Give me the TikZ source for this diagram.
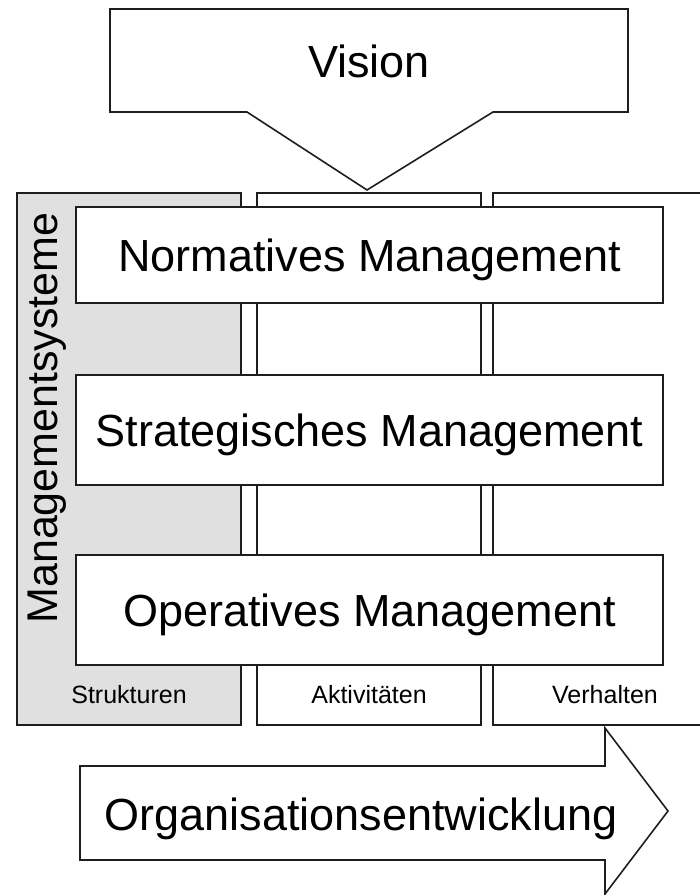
\documentclass[tikz,border=0pt]{standalone}
\usepackage{fontspec}
\setmainfont{Liberation Sans}
\definecolor{structgray}{RGB}{224,224,224}
\definecolor{linegray}{RGB}{30,30,30}
\tikzset{
  bigtext/.style={font=\fontsize{45}{54}\selectfont},
  smalltext/.style={font=\fontsize{25}{30}\selectfont},
  colbox/.style={draw=linegray, line width=1.6pt},
  mgmtbox/.style={draw=linegray, fill=white, line width=1.6pt, inner sep=0pt,
    minimum width=587pt, text height=32pt, text depth=0pt, bigtext}
}
\begin{document}
\begin{tikzpicture}[x=1pt, y=-1pt]
    % Rahmen 700 x 895
    \useasboundingbox (0,0) rectangle (700,895);

    % ===== Spalten: Strukturen / Aktivitaeten / Verhalten =====
    \fill[structgray] (17,193) rectangle (241,725);
    \foreach \lx/\rx in {17/241, 257/481, 493/717} {
      \draw[colbox] (\lx,193) rectangle (\rx,725);
    }
    \node[smalltext] (strukt) at (129,695) {Strukturen};
    \node[smalltext] (aktiv)  at (369,695) {Aktivitäten};
    \node[smalltext] (verh)   at (605,695) {Verhalten};

    % vertikale Beschriftung in der grauen Spalte
    \node[font=\fontsize{43}{50}\selectfont, rotate=90] (msys) at (47,418) {Managementsysteme};

    % ===== Management-Ebenen =====
    \node[mgmtbox, minimum height=96pt]  (norm)  at (369.5,255) {Normatives Management};
    \node[mgmtbox, minimum height=110pt] (strat) at (369.5,430) {Strategisches Management};
    \node[mgmtbox, minimum height=110pt] (oper)  at (369.5,610) {Operatives Management};

    % ===== Vision (Pfeil nach unten) =====
    \draw[draw=linegray, line width=1.6pt, fill=white]
      (110,9) -- (628,9) -- (628,112) -- (493,112) -- (367,190)
      -- (247,112) -- (110,112) -- cycle;
    \node[bigtext, text height=32pt, text depth=0pt] (vision) at (369,61) {Vision};

    % ===== Organisationsentwicklung (Pfeil nach rechts) =====
    \draw[draw=linegray, line width=1.6pt, fill=white]
      (80,766) -- (605,766) -- (605,728) -- (668,811)
      -- (605,894) -- (605,860) -- (80,860) -- cycle;
    \node[bigtext, text height=32pt, text depth=0pt] (orgent) at (361,814) {Organisationsentwicklung};

  \end{tikzpicture}
\end{document}
